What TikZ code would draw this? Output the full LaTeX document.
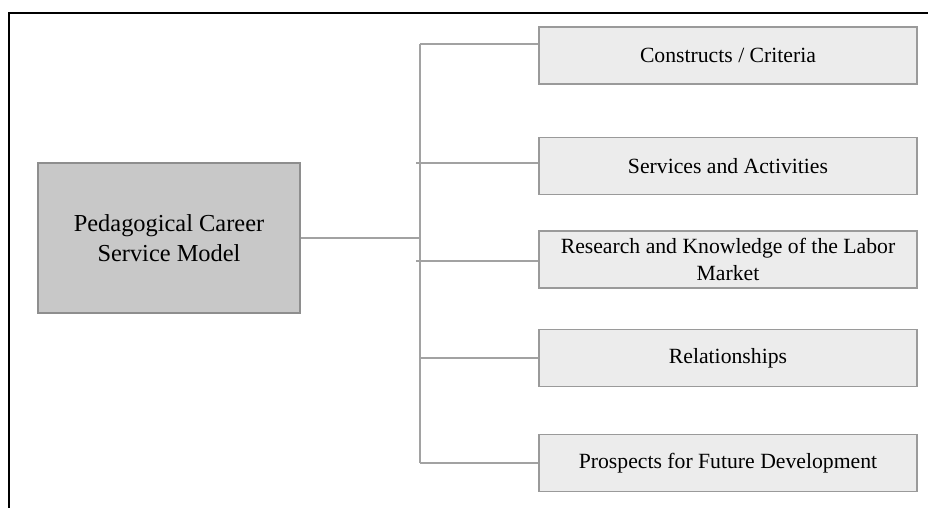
\documentclass[tikz,border=0pt]{standalone}
\usepackage{fontspec}
\setmainfont{Liberation Serif}
\definecolor{mainfill}{HTML}{C8C8C8}
\definecolor{mainline}{HTML}{8E8E8E}
\definecolor{boxfill}{HTML}{ECECEC}
\definecolor{boxline}{HTML}{9A9A9A}
\definecolor{conn}{HTML}{A2A2A2}
\begin{document}
\begin{tikzpicture}[x=1pt,y=-1pt,
  mainbox/.style={draw=mainline, fill=mainfill, line width=1.2pt, minimum width=262pt, minimum height=150pt, align=center, inner sep=0pt, font=\fontsize{24.4}{30}\selectfont},
  itembox/.style={draw=boxline, fill=boxfill, line width=1.2pt, minimum width=378pt, minimum height=57pt, align=center, inner sep=0pt, font=\fontsize{21.7}{27}\selectfont},
  connector/.style={draw=conn, line width=1.5pt},
  frameline/.style={draw=black, line width=2.5pt}]
\useasboundingbox (0,0) rectangle (928,507);
\draw[frameline] (929,13) -- (9,13) -- (9,508);
\node[mainbox] (main) at (169,238) {Pedagogical Career\\Service Model};
\node[itembox] (b1) at (728,55.5) {Constructs / Criteria};
\node[itembox] (b2) at (728,166) {Services and Activities};
\node[itembox] (b3) at (728,259.5) {Research and Knowledge of the Labor\\Market};
\node[itembox] (b4) at (728,358) {Relationships};
\node[itembox] (b5) at (728,463) {Prospects for Future Development};
\coordinate (t1) at (420,44);
\coordinate (t2) at (416,163);
\coordinate (t3) at (416,261);
\coordinate (t4) at (420,358);
\coordinate (t5) at (420,463);
\coordinate (tm) at (420,238);
\draw[connector] (t1) -- (t5);
\draw[connector] (main.east |- tm) -- (tm);
\draw[connector] (t1) -- (b1.west |- t1);
\draw[connector] (t2) -- (b2.west |- t2);
\draw[connector] (t3) -- (b3.west |- t3);
\draw[connector] (t4) -- (b4.west |- t4);
\draw[connector] (t5) -- (b5.west |- t5);
\end{tikzpicture}
\end{document}
